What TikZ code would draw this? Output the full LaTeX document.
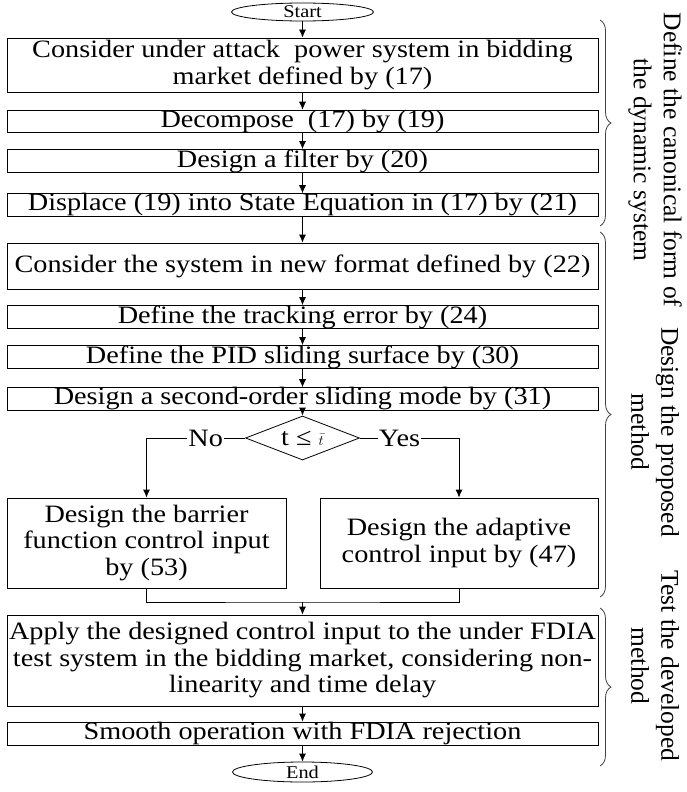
\documentclass[tikz,border=0pt]{standalone}
\usepackage{fontspec}
\setmainfont{Liberation Serif}[FakeStretch=1.13]
\newfontfamily\sidefont{Liberation Serif}
\usetikzlibrary{shapes.geometric,arrows.meta,decorations.pathreplacing}
\begin{document}
\begin{tikzpicture}[x=1pt,y=-1pt,
  txt/.style={font=\fontsize{25}{26.5}\selectfont},
  box/.style={draw, line width=0.8pt, inner sep=0pt, align=center, txt},
  term/.style={draw, ellipse, line width=0.8pt, inner sep=0pt, font=\fontsize{18}{18}\selectfont},
  arr/.style={line width=0.8pt, -{Latex[length=8pt,width=7pt]}},
  ln/.style={line width=0.8pt},
  lbl/.style={fill=white, inner sep=1pt, txt},
  br/.style={line width=0.8pt, draw=black!75, decorate, decoration={brace, amplitude=11pt}},
  side/.style={rotate=-90, align=center, inner sep=0pt, font=\sidefont\fontsize{25.5}{30}\selectfont}]
\useasboundingbox (0,0) rectangle (687,792);

\node[term, minimum width=142pt, minimum height=18pt] (start) at (302.5,12) {Start};
\node[box, minimum width=591pt, minimum height=54pt] (b1) at (302.5,65) {Consider under attack\ \ power system in bidding\\market defined by (17)};
\node[box, minimum width=591pt, minimum height=21pt] (b2) at (302.5,121.5) {Decompose\ \ (17) by (19)};
\node[box, minimum width=591pt, minimum height=22pt] (b3) at (302.5,161) {Design a filter by (20)};
\node[box, minimum width=591pt, minimum height=22pt] (b4) at (302.5,205) {Displace (19) into State Equation in (17) by (21)};
\node[box, minimum width=591pt, minimum height=46pt] (b5) at (302.5,266) {Consider the system in new format defined by (22)};
\node[box, minimum width=591pt, minimum height=22pt] (b6) at (302.5,317) {Define the tracking error by (24)};
\node[box, minimum width=591pt, minimum height=22pt] (b7) at (302.5,357) {Define the PID sliding surface by (30)};
\node[box, minimum width=591pt, minimum height=22pt] (b8) at (302.5,399) {Design a second-order sliding mode by (31)};
\node[draw, diamond, line width=0.8pt, inner sep=0pt, aspect=2.6, minimum width=114pt, minimum height=44pt, txt] (dec) at (302.5,438) {t ≤ {\fontsize{15}{15}\selectfont$\bar{t}$}};
\node[box, minimum width=279pt, minimum height=90pt] (lb) at (146.5,543) {Design the barrier\\function control input\\by (53)};
\node[box, minimum width=278pt, minimum height=90pt] (rb) at (459,543) {Design the adaptive\\control input by (47)};
\node[box, minimum width=591pt, minimum height=91pt] (b9) at (302.5,660.5) {Apply the designed control input to the under FDIA\\test system in the bidding market, considering non-\\linearity and time delay};
\node[box, minimum width=591pt, minimum height=23pt] (b10) at (302.5,733.5) {Smooth operation with FDIA rejection};
\node[term, minimum width=140pt, minimum height=20pt] (end) at (302.5,772) {End};

\coordinate (m) at (302.5,602);

\draw[arr] (start) -- (b1);
\draw[arr] (b1) -- (b2);
\draw[arr] (b2) -- (b3);
\draw[arr] (b3) -- (b4);
\draw[arr] (b4) -- (b5);
\draw[arr] (b5) -- (b6);
\draw[arr] (b6) -- (b7);
\draw[arr] (b7) -- (b8);
\draw[arr] (b8) -- (dec);
\draw[arr] (dec.west) -- node[lbl, pos=0.4] {No} (lb.north |- dec.west) -- (lb.north);
\draw[arr] (dec.east) -- node[lbl, pos=0.4] {Yes} (rb.north |- dec.east) -- (rb.north);
\draw[ln] (lb.south) |- (m) -| (rb.south);
\draw[arr] (m) -- (b9);
\draw[arr] (b9) -- (b10);
\draw[arr] (b10) -- (end);

\draw[br] (600,20) -- (600,226);
\draw[br] (600,232) -- (600,597);
\draw[br] (600,608) -- (600,766);

\node[side] (s1) at (655,160) {Define the canonical form of\\the dynamic system};
\node[side] (s2) at (655,432) {Design the proposed\\method};
\node[side] (s3) at (655,666) {Test the developed\\method};
\end{tikzpicture}
\end{document}
